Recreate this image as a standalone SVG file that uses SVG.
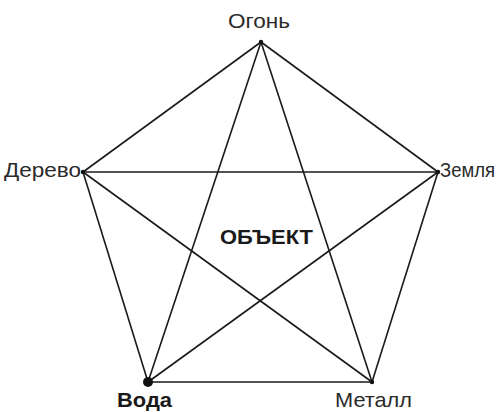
<svg xmlns="http://www.w3.org/2000/svg" width="499" height="412" viewBox="0 0 499 412">
<style>
.e{stroke:#1a1a1a;stroke-width:1.6;fill:none}
.t{font-family:"Liberation Sans",Arial,sans-serif;font-size:21px;fill:#2a2a2a}
.b{font-weight:bold;fill:#1a1a1a}
.d{fill:#111}
</style>
<rect width="499" height="412" fill="#fff"/>
<g id="connectors">
<line class="e" x1="261" y1="42" x2="83" y2="172"/>
<line class="e" x1="261" y1="42" x2="438" y2="172"/>
<line class="e" x1="83" y1="172" x2="148" y2="382"/>
<line class="e" x1="438" y1="172" x2="372" y2="382"/>
<line class="e" x1="148" y1="382" x2="372" y2="382"/>
<line class="e" x1="261" y1="42" x2="148" y2="382"/>
<line class="e" x1="261" y1="42" x2="372" y2="382"/>
<line class="e" x1="83" y1="172" x2="438" y2="172"/>
<line class="e" x1="83" y1="172" x2="372" y2="382"/>
<line class="e" x1="438" y1="172" x2="148" y2="382"/>
</g>
<g id="ogon"><circle class="d" cx="261" cy="42" r="2.2"/><text class="t" x="228" y="28" textLength="62" lengthAdjust="spacingAndGlyphs">Огонь</text></g>
<g id="derevo"><circle class="d" cx="83" cy="172" r="2.2"/><text class="t" x="4" y="177" textLength="77" lengthAdjust="spacingAndGlyphs">Дерево</text></g>
<g id="zemlya"><circle class="d" cx="438" cy="172" r="2.2"/><text class="t" x="440" y="177" font-size="16" textLength="55" lengthAdjust="spacingAndGlyphs">Земля</text></g>
<g id="voda"><circle class="d" cx="148" cy="382" r="5"/><text class="t b" x="117" y="407" textLength="55" lengthAdjust="spacingAndGlyphs">Вода</text></g>
<g id="metall"><circle class="d" cx="372" cy="382" r="2.2"/><text class="t" x="335" y="407" textLength="77" lengthAdjust="spacingAndGlyphs">Металл</text></g>
<g id="obekt"><text class="t b" x="220" y="244" textLength="93" lengthAdjust="spacingAndGlyphs">ОБЪЕКТ</text></g>
</svg>
